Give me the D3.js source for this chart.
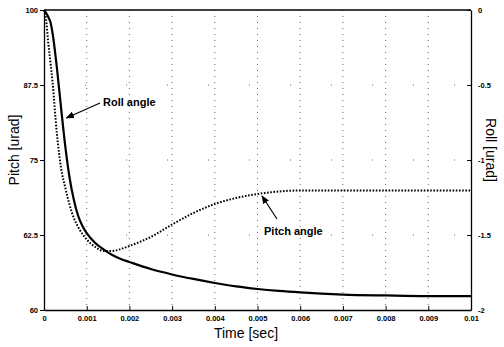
<!DOCTYPE html>
<html><head><meta charset="utf-8">
<script src="https://cdn.jsdelivr.net/npm/d3@7"></script>
<style>body{margin:0;background:#fff}svg{display:block}</style>
</head><body>
<svg id="c" width="504" height="347"></svg>
<script>
// time in seconds
const times = [0,0.00005,0.0001,0.00015,0.0002,0.0003,0.0004,0.0005,0.0006,0.0007,0.0008,0.0009,0.001,0.0012,0.0014,0.0016,0.0018,0.002,0.0025,0.003,0.0035,0.004,0.0045,0.005,0.0055,0.006,0.007,0.008,0.009,0.01];
const rollValues = [0,-0.02,-0.047,-0.08,-0.153,-0.38,-0.653,-0.913,-1.12,-1.267,-1.373,-1.44,-1.487,-1.553,-1.597,-1.633,-1.66,-1.68,-1.727,-1.763,-1.793,-1.82,-1.843,-1.86,-1.873,-1.883,-1.897,-1.903,-1.907,-1.907];
const pitchValues = [100,98.33,94.5,91.33,88,79.5,73.67,70.33,67.5,65.33,63.83,62.67,61.75,60.5,59.83,59.83,60.17,60.67,62.17,64.25,66.17,67.67,68.67,69.33,69.75,69.92,69.92,69.92,69.92,69.92];
const timeTicks = [0,0.001,0.002,0.003,0.004,0.005,0.006,0.007,0.008,0.009,0.01];
const timeTickLabels = ["0","0.001","0.002","0.003","0.004","0.005","0.006","0.007","0.008","0.009","0.01"];
const pitchTicks = [50,62.5,75,87.5,100];
const pitchTickLabels = ["60","62.5","75","87.5","100"];
const rollTicks = [0,-0.5,-1,-1.5,-2];
const rollTickLabels = ["0","-0.5","-1","-1.5","-2"];

const L=44,R=471,T=10,B=310;
const svg=d3.select("#c");
const x=d3.scaleLinear().domain([0,0.01]).range([L,R]);
const yP=d3.scaleLinear().domain([50,100]).range([B,T]);
const yR=d3.scaleLinear().domain([-2,0]).range([B,T]);
const font="Arial, 'Liberation Sans', sans-serif";

// grid
const g=svg.append("g");
g.selectAll("line.vg").data(timeTicks.slice(1,-1)).enter().append("line")
 .attr("x1",d=>x(d)).attr("x2",d=>x(d)).attr("y1",T).attr("y2",B)
 .attr("stroke","#444").attr("stroke-width",0.8).attr("stroke-dasharray","1,5");
g.selectAll("line.hg").data(pitchTicks.slice(1,-1)).enter().append("line")
 .attr("x1",L).attr("x2",R).attr("y1",d=>yP(d)).attr("y2",d=>yP(d))
 .attr("stroke","#444").attr("stroke-width",0.8).attr("stroke-dasharray","1,40");

// axes
const xa=svg.append("g").attr("transform",`translate(0,${B})`)
 .call(d3.axisBottom(x).tickValues(timeTicks).tickFormat((d,i)=>timeTickLabels[i]).tickSizeInner(-4).tickSizeOuter(0).tickPadding(6));
const la=svg.append("g").attr("transform",`translate(${L},0)`)
 .call(d3.axisLeft(yP).tickValues(pitchTicks).tickFormat((d,i)=>pitchTickLabels[i]).tickSizeInner(4).tickSizeOuter(0).tickPadding(2));
const ra=svg.append("g").attr("transform",`translate(${R},0)`)
 .call(d3.axisRight(yR).tickValues(rollTicks).tickFormat((d,i)=>rollTickLabels[i]).tickSizeInner(-4).tickSizeOuter(0).tickPadding(7));
svg.append("line").attr("x1",L).attr("x2",R).attr("y1",T).attr("y2",T).attr("stroke","#000").attr("stroke-width",1.3);
[xa,la,ra].forEach(a=>{
 a.selectAll("path.domain").attr("stroke","#000").attr("stroke-width",1.3);
 a.selectAll(".tick line").attr("stroke","#000");
 a.selectAll("text").attr("font-family",font).attr("font-size",7.5).attr("font-weight","bold").attr("fill","#000");
});
ra.selectAll(".tick text").attr("dy","0.3em");

// lines
svg.append("path").datum(times.map((t,i)=>[t,pitchValues[i]]))
 .attr("d",d3.line().x(d=>x(d[0])).y(d=>yP(d[1])).curve(d3.curveMonotoneX))
 .attr("fill","none").attr("stroke","#000").attr("stroke-width",2).attr("stroke-dasharray","1.6,1.6");
svg.append("path").datum(times.map((t,i)=>[t,rollValues[i]]))
 .attr("d",d3.line().x(d=>x(d[0])).y(d=>yR(d[1])).curve(d3.curveMonotoneX))
 .attr("fill","none").attr("stroke","#000").attr("stroke-width",2.2);

// titles
svg.append("text").attr("x",246).attr("y",338).attr("text-anchor","middle")
 .attr("font-family",font).attr("font-size",14).text("Time [sec]");
svg.append("text").attr("transform","translate(19,150) rotate(-90)").attr("text-anchor","middle")
 .attr("font-family",font).attr("font-size",14).text("Pitch [urad]");
svg.append("text").attr("transform","translate(486,150) rotate(90)").attr("text-anchor","middle")
 .attr("font-family",font).attr("font-size",14).text("Roll [urad]");

// annotations
const defs=svg.append("defs");
defs.append("marker").attr("id","ah").attr("viewBox","0 0 10 10").attr("refX",9).attr("refY",5)
 .attr("markerWidth",7).attr("markerHeight",7).attr("orient","auto")
 .append("path").attr("d","M0,1 L10,5 L0,9 Z").attr("fill","#000");
svg.append("text").attr("x",103).attr("y",106).attr("font-family",font).attr("font-size",11).attr("font-weight","bold").text("Roll angle");
svg.append("line").attr("x1",100).attr("y1",103).attr("x2",x(0.0005)+1).attr("y2",118)
 .attr("stroke","#000").attr("stroke-width",1.2).attr("marker-end","url(#ah)");
svg.append("text").attr("x",264).attr("y",235).attr("font-family",font).attr("font-size",11).attr("font-weight","bold").text("Pitch angle");
svg.append("line").attr("x1",277).attr("y1",219).attr("x2",262).attr("y2",196)
 .attr("stroke","#000").attr("stroke-width",1.2).attr("marker-end","url(#ah)");
</script>
</body></html>
